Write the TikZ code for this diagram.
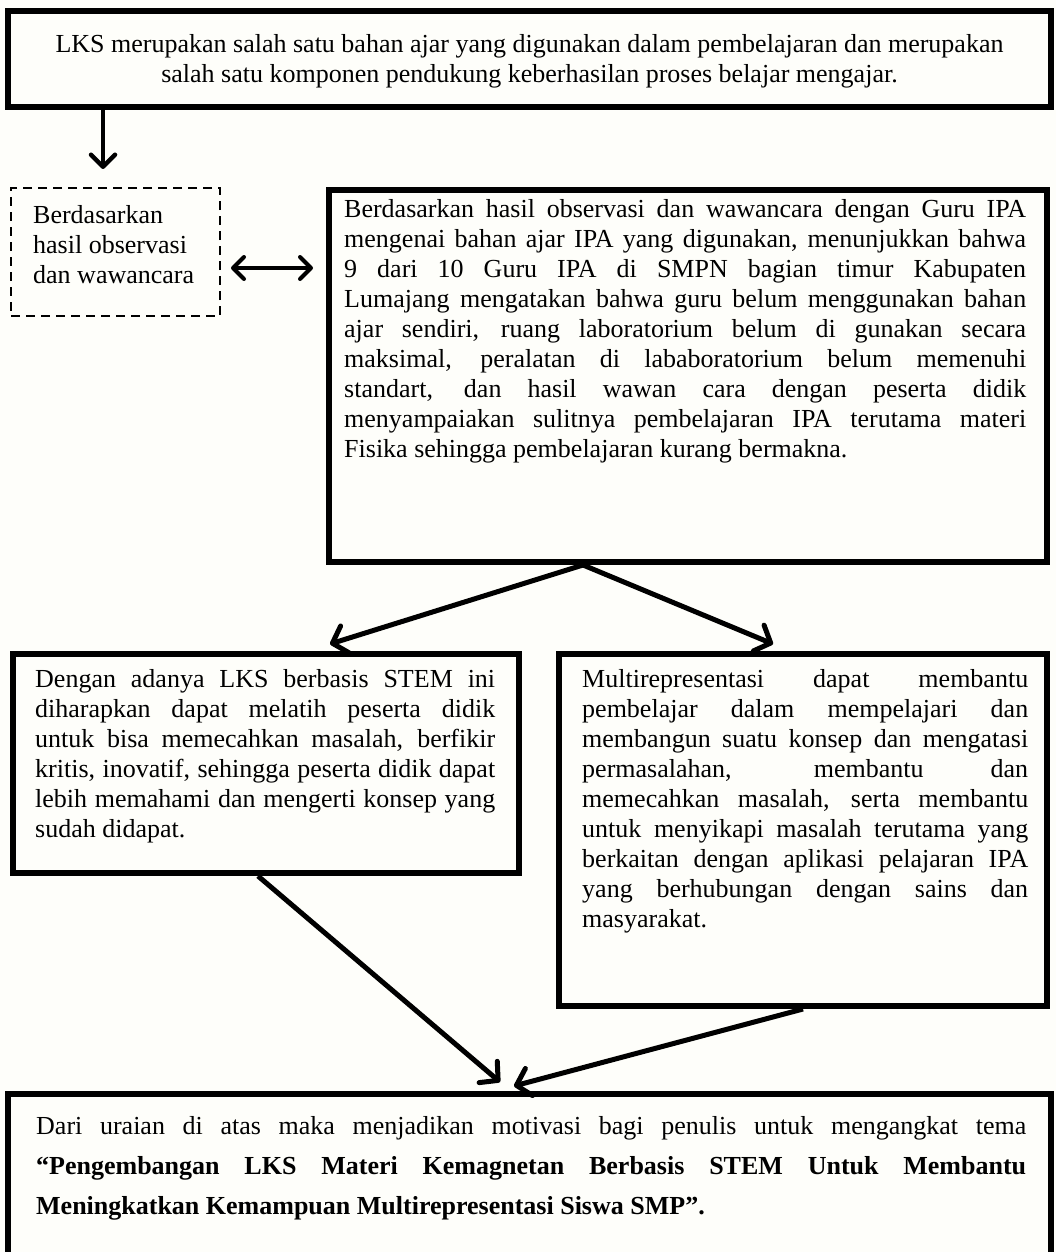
\documentclass[tikz,border=0pt]{standalone}
\usepackage{fontspec}
\setmainfont{Liberation Serif}
\usetikzlibrary{arrows.meta,calc}
\definecolor{paper}{RGB}{254,254,250}
\tolerance=10000
\hyphenpenalty=10000
\parindent=0pt
\tikzset{
  frame/.style={draw=black, line width=6.5pt, inner sep=0pt, outer sep=0pt},
  dashframe/.style={draw=black, line width=2.5pt, dash pattern=on 9pt off 6pt, inner sep=0pt, outer sep=0pt},
  txt/.style={inner sep=0pt, anchor=north west, align=justify, font=\fontsize{26}{30}\selectfont},
  conn/.style={line width=5pt, -{Straight Barb[length=13pt,width=28pt,round]}},
  thinconn/.style={line width=4.5pt, -{Straight Barb[length=12pt,width=24pt,round]}},
  bothconn/.style={line width=4pt, {Straight Barb[length=11pt,width=22pt,round]}-{Straight Barb[length=11pt,width=22pt,round]}}
}
\begin{document}
\begin{tikzpicture}[x=1pt,y=-1pt]
  \useasboundingbox (0,0) rectangle (1056,1252);
  \clip (0,0) rectangle (1056,1252);
  \fill[paper] (0,0) rectangle (1056,1252);

  % frames
  \node[frame, minimum width=1043pt, minimum height=96pt] (topbox) at (529.5,59) {};
  \node[dashframe, minimum width=209pt, minimum height=128pt] (obsbox) at (115.5,252) {};
  \node[frame, minimum width=718pt, minimum height=372pt] (mainbox) at (688,376) {};
  \node[frame, minimum width=506pt, minimum height=219pt] (leftbox) at (266,763.5) {};
  \node[frame, minimum width=488pt, minimum height=352pt] (rightbox) at (803,830) {};
  \node[frame, minimum width=1043pt, minimum height=196pt] (endbox) at (529.5,1192) {};

  % texts
  \node[txt, anchor=center, align=center] (toptext) at (529.5,61)
    {LKS merupakan salah satu bahan ajar yang digunakan dalam pembelajaran dan merupakan\\
     salah satu komponen pendukung keberhasilan proses belajar mengajar.};

  \node[txt, align=left] (obstext) at (33,205)
    {Berdasarkan\\hasil observasi\\dan wawancara};

  \node[txt, text width=682pt] (maintext) at (344,199)
    {Berdasarkan hasil observasi dan wawancara dengan Guru IPA\linebreak
     mengenai bahan ajar IPA yang digunakan, menunjukkan bahwa\linebreak
     9 dari 10 Guru IPA di SMPN bagian timur Kabupaten\linebreak
     Lumajang mengatakan bahwa guru belum menggunakan bahan\linebreak
     ajar sendiri, ruang laboratorium belum di gunakan secara\linebreak
     maksimal, peralatan di lababoratorium belum memenuhi\linebreak
     standart, dan hasil wawan cara dengan peserta didik\linebreak
     menyampaiakan sulitnya pembelajaran IPA terutama materi\linebreak
     Fisika sehingga pembelajaran kurang bermakna.};

  \node[txt, text width=460pt] (lefttext) at (35,669)
    {Dengan adanya LKS berbasis STEM ini\linebreak
     diharapkan dapat melatih peserta didik\linebreak
     untuk bisa memecahkan masalah, berfikir\linebreak
     kritis, inovatif, sehingga peserta didik dapat\linebreak
     lebih memahami dan mengerti konsep yang\linebreak
     sudah didapat.};

  \node[txt, text width=446pt] (righttext) at (582,669)
    {Multirepresentasi dapat membantu\linebreak
     pembelajar dalam mempelajari dan\linebreak
     membangun suatu konsep dan mengatasi\linebreak
     permasalahan, membantu dan\linebreak
     memecahkan masalah, serta membantu\linebreak
     untuk menyikapi masalah terutama yang\linebreak
     berkaitan dengan aplikasi pelajaran IPA\linebreak
     yang berhubungan dengan sains dan\linebreak
     masyarakat.};

  \node[txt, text width=990pt, font=\fontsize{26}{40}\selectfont] (endtext) at (36,1116)
    {Dari uraian di atas maka menjadikan motivasi bagi penulis untuk mengangkat tema\linebreak
     \textbf{“Pengembangan LKS Materi Kemagnetan Berbasis STEM Untuk Membantu\linebreak
     Meningkatkan Kemampuan Multirepresentasi Siswa SMP”.}};

  % connector end points
  \coordinate (downA) at ($(topbox.south west)+(95,3)$);
  \coordinate (downB) at ($(topbox.south west)+(95,62)$);
  \coordinate (pairA) at ($(obsbox.east)+(11,16)$);
  \coordinate (pairB) at ($(mainbox.west)+(-16,-108)$);
  \coordinate (splitO) at ($(mainbox.south west)+(254,3)$);
  \coordinate (splitL) at (330,644);
  \coordinate (splitR) at (773,644);
  \coordinate (joinL) at ($(leftbox.south west)+(245,3)$);
  \coordinate (joinR) at ($(rightbox.south west)+(244,3)$);
  \coordinate (tipL) at (500,1082);
  \coordinate (tipR) at (514,1086);

  % connectors
  \draw[thinconn] (downA) -- (downB);
  \draw[bothconn] (pairA) -- (pairB);
  \draw[conn] (splitO) -- (splitL);
  \draw[conn] (splitO) -- (splitR);
  \draw[conn] (joinL) -- (tipL);
  \draw[conn] (joinR) -- (tipR);
\end{tikzpicture}
\end{document}
